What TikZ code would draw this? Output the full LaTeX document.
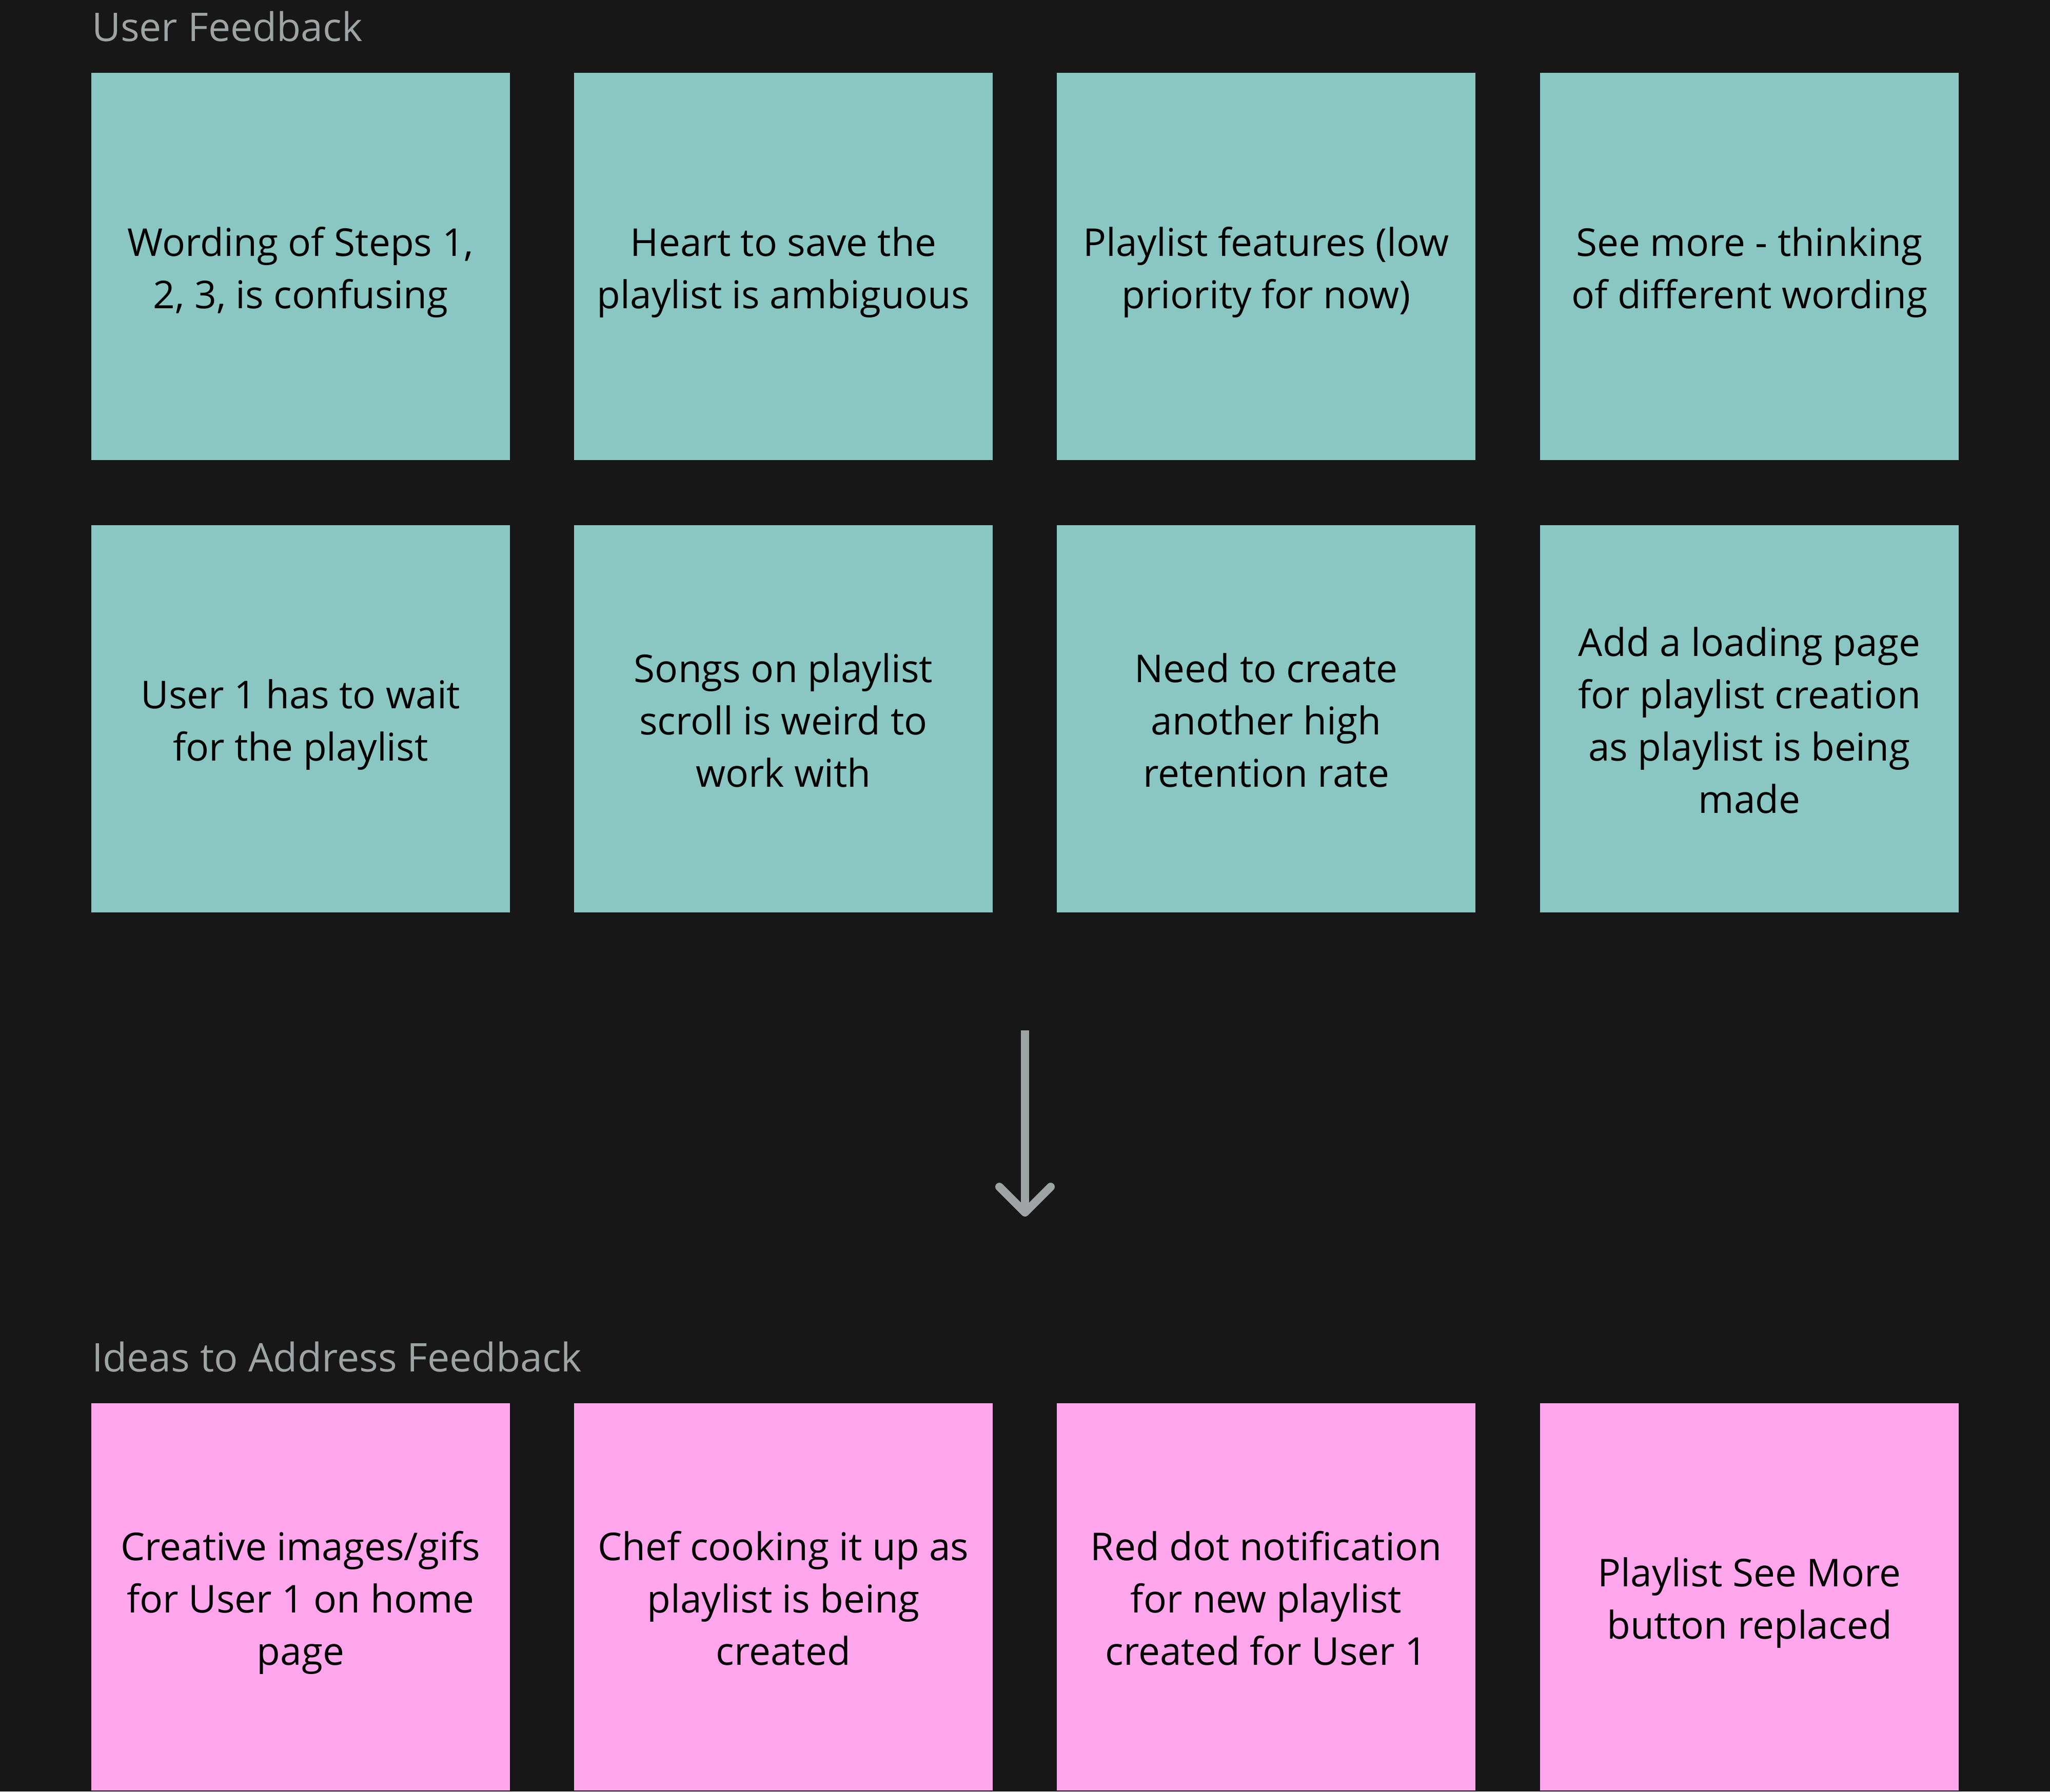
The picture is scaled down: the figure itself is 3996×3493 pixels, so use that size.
\documentclass[tikz,border=0pt]{standalone}
\usepackage{fontspec}
\setmainfont{Open Sans}
\definecolor{bgc}{HTML}{171717}
\definecolor{tealc}{HTML}{8BC7C2}
\definecolor{pinkc}{HTML}{FFA6EC}
\definecolor{grayc}{HTML}{9EA4A4}
\newcommand{\cardstrut}{\rule[-4.1pt]{0pt}{20.4pt}}
\tikzset{
  card/.style={rectangle, fill=#1, inner sep=0pt, minimum width=163.2pt, minimum height=151pt,
    align=center, text=black, font=\fontsize{14.95pt}{20.4pt}\selectfont},
  heading/.style={anchor=base west, inner sep=0pt, text=grayc, font=\fontsize{15.4pt}{20.4pt}\selectfont},
  arrowline/.style={draw=grayc, line width=3.2pt}
}
\begin{document}
\begin{tikzpicture}[x=0.2pt, y=-0.2pt]
\fill[bgc] (0,0) rectangle (3996,3493);
\useasboundingbox (0,0) rectangle (3996,3493);

\node[heading] (t1) at (178,80) {User Feedback};
\node[heading] (t2) at (178,2674) {Ideas to Address Feedback};

% row 1
\node[card=tealc] (f1) at (586,519.5) {\cardstrut Wording of Steps 1,\\\cardstrut 2, 3, is confusing};
\node[card=tealc] (f2) at (1527,519.5) {\cardstrut Heart to save the\\\cardstrut playlist is ambiguous};
\node[card=tealc] (f3) at (2468,519.5) {\cardstrut Playlist features (low\\\cardstrut priority for now)};
\node[card=tealc] (f4) at (3410,519.5) {\cardstrut See more - thinking\\\cardstrut of different wording};
% row 2
\node[card=tealc] (f5) at (586,1401.5) {\cardstrut User 1 has to wait\\\cardstrut for the playlist};
\node[card=tealc] (f6) at (1527,1401.5) {\cardstrut Songs on playlist\\\cardstrut scroll is weird to\\\cardstrut work with};
\node[card=tealc] (f7) at (2468,1401.5) {\cardstrut Need to create\\\cardstrut another high\\\cardstrut retention rate};
\node[card=tealc] (f8) at (3410,1401.5) {\cardstrut Add a loading page\\\cardstrut for playlist creation\\\cardstrut as playlist is being\\\cardstrut made};
% row 3
\node[card=pinkc] (i1) at (586,3113.5) {\cardstrut Creative images/gifs\\\cardstrut for User 1 on home\\\cardstrut page};
\node[card=pinkc] (i2) at (1527,3113.5) {\cardstrut Chef cooking it up as\\\cardstrut playlist is being\\\cardstrut created};
\node[card=pinkc] (i3) at (2468,3113.5) {\cardstrut Red dot notification\\\cardstrut for new playlist\\\cardstrut created for User 1};
\node[card=pinkc] (i4) at (3410,3113.5) {\cardstrut Playlist See More\\\cardstrut button replaced};

% arrow
\coordinate (atop) at (1998,2009);
\coordinate (atip) at (1998,2364);
\coordinate (al) at (1948,2314);
\coordinate (ar) at (2048,2314);
\draw[arrowline] (atop) -- (atip);
\draw[arrowline, line cap=round, line join=round] (al) -- (atip) -- (ar);
\end{tikzpicture}
\end{document}
